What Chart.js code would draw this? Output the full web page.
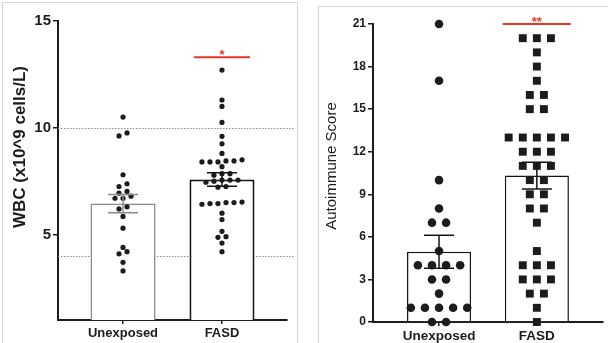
<!DOCTYPE html>
<html>
<head>
<meta charset="utf-8">
<script src="https://cdn.jsdelivr.net/npm/chart.js@4.4.1/dist/chart.umd.min.js"></script>
<style>
  body { margin: 0; background: #fff; width: 608px; height: 343px; overflow: hidden; position: relative; }
  canvas { position: absolute; }
  #wbc-chart { left: 0; top: 0; }
  #auto-chart { left: 318px; top: 6px; }
  .frame { position: absolute; border: 1px solid #d6d6d6; }
</style>
</head>
<body>
<div class="frame" style="left:2px;top:2px;width:294px;height:350px;"></div>
<div class="frame" style="left:318px;top:6px;width:300px;height:350px;"></div>
<canvas id="wbc-chart" width="300" height="343"></canvas>
<canvas id="auto-chart" width="290" height="337"></canvas>
<script>
const groups = ['Unexposed', 'FASD'];

// left panel: WBC (x10^9 cells/L)
const wbcUnexposed = [10.5, 9.76, 9.62, 7.8, 7.38, 7.25, 7.02, 6.94, 6.8, 6.7, 6.7, 6.3, 6.2, 5.85, 5.3, 4.4, 4.2, 4.1, 3.7, 3.3];
const wbcFasd = [12.7, 11.3, 11.0, 10.25, 9.6, 9.25, 8.8, 8.5, 8.45, 8.45, 8.4, 8.4, 8.4, 8.18, 7.85, 7.85, 7.78,
  7.55, 7.55, 7.55, 7.5, 7.45, 7.25, 7.22, 6.52, 6.5, 6.5, 6.45, 6.45, 6.42, 6.0, 5.7, 5.15, 4.9, 4.87, 4.6, 4.2];
const wbcMean = [6.45, 7.58];
const wbcSem = [0.43, 0.32];
const wbcTicks = [5, 10, 15];
const wbcRefLines = [10, 4];
const wbcSig = { group: 1, level: 13.3, label: '*' };

// right panel: autoimmune score
const autoUnexposed = [21, 17, 10, 8, 7, 7, 5, 4, 4, 4, 4, 3, 3, 2, 1, 1, 1, 1, 1, 0, 0];
const autoFasd = [20, 20, 20, 19, 18, 17, 16, 16, 15, 15, 13, 13, 13, 13, 13, 12, 12, 12, 11, 11, 11,
  10, 10, 9, 9, 8, 8, 7, 5, 4, 4, 4, 3, 3, 3, 2, 2, 1, 0];
const autoMean = [4.95, 10.32];
const autoSem = [1.17, 0.94];
const autoTicks = [0, 3, 6, 9, 12, 15, 18, 21];
const autoSig = { group: 1, level: 21, label: '**' };

const FONT = "'Liberation Sans', Arial, sans-serif";
const INK = '#1c1c1c';
const RED = '#e8332b';

// GraphPad-like scatter: values close together share a row, rows are centred on the group
function swarm(values, center, tol, step) {
  const sorted = [...values].sort((a, b) => a - b);
  const rows = [];
  sorted.forEach(v => {
    const row = rows[rows.length - 1];
    if (row && v - row[0] <= tol) row.push(v);
    else rows.push([v]);
  });
  const pts = [];
  rows.forEach(row => row.forEach((v, i) => {
    pts.push({ x: center + (i - (row.length - 1) / 2) * step, y: v });
  }));
  return pts;
}

const extras = {
  id: 'extras',
  beforeDatasetsDraw(chart, args, o) {
    const { ctx, chartArea, scales: { y } } = chart;
    (o.refLines || []).forEach(v => {
      const py = Math.round(y.getPixelForValue(v)) + 0.5;
      ctx.save();
      ctx.strokeStyle = '#8d8d8d';
      ctx.lineWidth = 1;
      ctx.setLineDash([1.5, 1.5]);
      ctx.beginPath();
      ctx.moveTo(chartArea.left, py);
      ctx.lineTo(chartArea.right + 8, py);
      ctx.stroke();
      ctx.restore();
    });
  },
  afterDatasetsDraw(chart, args, o) {
    const { ctx, scales: { x, y } } = chart;
    o.means.forEach((m, i) => {
      const px = x.getPixelForValue(i);
      const top = y.getPixelForValue(m + o.sems[i]);
      const bot = y.getPixelForValue(m - o.sems[i]);
      ctx.save();
      ctx.strokeStyle = o.errColors[i];
      ctx.lineWidth = 1.5;
      ctx.beginPath();
      ctx.moveTo(px, top); ctx.lineTo(px, bot);
      ctx.moveTo(px - o.cap / 2, top); ctx.lineTo(px + o.cap / 2, top);
      ctx.moveTo(px - o.cap / 2, bot); ctx.lineTo(px + o.cap / 2, bot);
      ctx.stroke();
      ctx.restore();
    });
    // significance bar
    const s = o.sig;
    const sx = x.getPixelForValue(s.group);
    const sy = y.getPixelForValue(s.level);
    ctx.save();
    ctx.strokeStyle = RED;
    ctx.lineWidth = 2;
    ctx.beginPath();
    ctx.moveTo(sx - o.sigHalf, sy);
    ctx.lineTo(sx + o.sigHalf, sy);
    ctx.stroke();
    ctx.fillStyle = RED;
    ctx.font = 'bold 13px ' + FONT;
    ctx.textAlign = 'center';
    ctx.textBaseline = 'alphabetic';
    ctx.fillText(s.label, sx, sy + 2);
    ctx.restore();
  },
  afterDraw(chart, args, o) {
    const { ctx } = chart;
    ctx.save();
    ctx.translate(o.titleX, o.titleY);
    ctx.rotate(-Math.PI / 2);
    ctx.fillStyle = INK;
    ctx.font = o.titleFont;
    ctx.textAlign = 'center';
    ctx.textBaseline = 'middle';
    ctx.fillText(o.title, 0, 0);
    ctx.restore();
  }
};

function panel(id, p) {
  return new Chart(document.getElementById(id), {
    type: 'bar',
    data: {
      datasets: [
        {
          type: 'scatter',
          data: swarm(p.series[0], 0, p.tol, p.step),
          pointStyle: p.styles[0], pointRadius: p.radii[0],
          backgroundColor: INK, borderWidth: 0, order: 0, clip: false
        },
        {
          type: 'scatter',
          data: swarm(p.series[1], 1, p.tol, p.step),
          pointStyle: p.styles[1], pointRadius: p.radii[1],
          backgroundColor: INK, borderWidth: 0, order: 0, clip: false
        },
        {
          type: 'bar',
          data: p.means.map((m, i) => ({ x: i, y: m })),
          backgroundColor: '#fff',
          borderColor: p.barColors,
          borderWidth: p.barBorder,
          barPercentage: p.barPct,
          categoryPercentage: 1,
          order: 1
        }
      ]
    },
    options: {
      responsive: false,
      animation: false,
      layout: { padding: p.padding },
      plugins: {
        legend: { display: false },
        tooltip: { enabled: false },
        extras: {
          means: p.means, sems: p.sems, errColors: p.barColors, cap: 30,
          refLines: p.refLines, sig: p.sig, sigHalf: p.sigHalf,
          title: p.title, titleFont: p.titleFont, titleX: p.titleX, titleY: p.titleY
        }
      },
      scales: {
        x: {
          type: 'linear', min: p.xRange[0], max: p.xRange[1], offset: false,
          afterBuildTicks: s => { s.ticks = groups.map((g, i) => ({ value: i })); },
          afterFit: s => { s.height = p.xHeight; },
          ticks: {
            callback: v => groups[v], autoSkip: false, maxRotation: 0,
            color: INK, padding: 2, font: { family: FONT, size: p.xFont, weight: 'bold' }
          },
          grid: { drawOnChartArea: false, offset: false, tickLength: 4, color: INK, lineWidth: 1.5 },
          border: { display: true, color: INK, width: 2 }
        },
        y: {
          type: 'linear', min: p.yRange[0], max: p.yRange[1],
          afterBuildTicks: s => { s.ticks = p.yTicks.map(v => ({ value: v })); },
          afterFit: s => { s.width = p.yWidth; },
          ticks: { color: INK, padding: 2, font: { family: FONT, size: p.yFont, weight: 'bold' } },
          grid: { drawOnChartArea: false, tickLength: 5, color: INK, lineWidth: 1.5 },
          border: { display: true, color: INK, width: 2 }
        }
      }
    },
    plugins: [extras]
  });
}

panel('wbc-chart', {
  series: [wbcUnexposed, wbcFasd], means: wbcMean, sems: wbcSem,
  tol: 0.2, step: 0.081, styles: ['circle', 'circle'], radii: [2.6, 2.6],
  barColors: ['#8a8a8a', '#151515'], barBorder: [1.5, 2], barPct: 0.657,
  refLines: wbcRefLines, sig: wbcSig, sigHalf: 28,
  title: 'WBC (x10^9 cells/L)', titleFont: 'bold 17px ' + FONT, titleX: 20, titleY: 147,
  xRange: [-0.657, 1.657], yRange: [1, 15], yTicks: wbcTicks,
  padding: { left: 0, top: 21, right: 13, bottom: 0 }, yWidth: 58, xHeight: 23,
  xFont: 13, yFont: 15
});

panel('auto-chart', {
  series: [autoUnexposed, autoFasd], means: autoMean, sems: autoSem,
  tol: 0.5, step: 0.144, styles: ['circle', 'rect'], radii: [4.3, 5.6],
  barColors: ['#151515', '#151515'], barBorder: [1.5, 1.5], barPct: 0.655,
  refLines: [], sig: autoSig, sigHalf: 34,
  title: 'Autoimmune Score', titleFont: '15px ' + FONT, titleX: 14, titleY: 160,
  xRange: [-0.675, 1.67], yRange: [0, 21], yTicks: autoTicks,
  padding: { left: 0, top: 18, right: 4, bottom: 0 }, yWidth: 55, xHeight: 21,
  xFont: 13.5, yFont: 12
});
</script>
</body>
</html>
